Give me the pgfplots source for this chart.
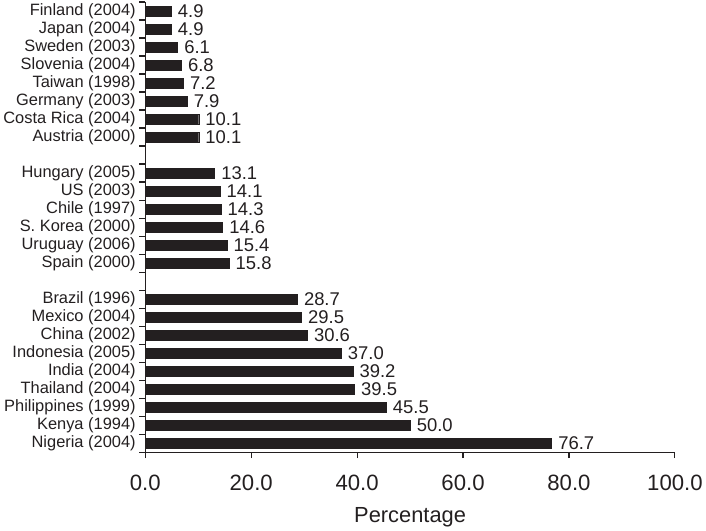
\documentclass[border=0pt]{standalone}
\usepackage{pgfplots}
\pgfplotsset{compat=1.18}
\usepackage{pgfplotstable}
\usepackage{fontspec}
\setmainfont{Liberation Sans}
\definecolor{barc}{HTML}{231F20}
\definecolor{txtc}{HTML}{231F20}
\pgfplotstableread{
y val
0 76.7
1 50.0
2 45.5
3 39.5
4 39.2
5 37.0
6 30.6
7 29.5
8 28.7
10 15.8
11 15.4
12 14.6
13 14.3
14 14.1
15 13.1
17 10.1
18 10.1
19 7.9
20 7.2
21 6.8
22 6.1
23 4.9
24 4.9
}\datatable
\begin{document}
\begin{tikzpicture}
\begin{axis}[
  scale only axis,
  width=526pt, height=447pt,
  xmin=0, xmax=100,
  ymin=-0.5, ymax=24.5,
  axis x line*=bottom,
  axis y line*=left,
  axis line style={line width=1.1pt, color=txtc},
  tick align=outside,
  major tick length=6pt,
  minor tick length=6pt,
  xtick={0,20,...,100},
  xtick style={line width=1.1pt, color=txtc},
  ytick={0,1,2,3,4,5,6,7,8,10,11,12,13,14,15,17,18,19,20,21,22,23,24},
  yticklabels={Nigeria (2004),Kenya (1994),Philippines (1999),Thailand (2004),India (2004),Indonesia (2005),China (2002),Mexico (2004),Brazil (1996),Spain (2000),Uruguay (2006),S. Korea (2000),Chile (1997),US (2003),Hungary (2005),Austria (2000),Costa Rica (2004),Germany (2003),Taiwan (1998),Slovenia (2004),Sweden (2003),Japan (2004),Finland (2004)},
  major y tick style={draw=none},
  minor ytick={-0.5,0.5,...,24.5},
  minor y tick style={draw=txtc, line width=1.1pt},
  yticklabel style={font=\fontsize{16.3}{18}\selectfont, text=txtc},
  xticklabel style={font=\fontsize{22}{24}\selectfont, text=txtc, yshift=-13pt,
    /pgf/number format/.cd, fixed, fixed zerofill, precision=1, assume math mode=true},
  xlabel={Percentage},
  xlabel style={font=\fontsize{21.7}{24}\selectfont, text=txtc, yshift=-10pt},
  xbar, bar width=9.6pt, bar shift=0pt,
  nodes near coords={\pgfmathprintnumber[fixed, fixed zerofill, precision=1, assume math mode=true]{\pgfplotspointmeta}},
  nodes near coords style={font=\fontsize{18.3}{20}\selectfont, text=txtc, anchor=west, inner sep=0pt, xshift=6.5pt},
  clip=false,
]
\addplot[fill=barc, draw=barc] table[x=val, y=y] {\datatable};
\end{axis}
\end{tikzpicture}
\end{document}
